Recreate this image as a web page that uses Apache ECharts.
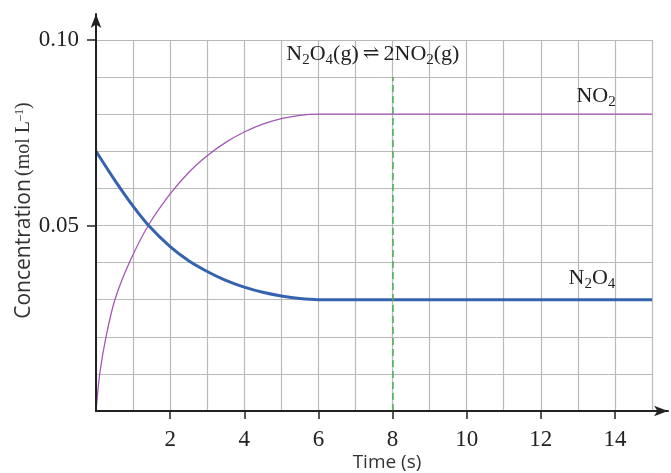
<!DOCTYPE html>
<html>
<head>
<meta charset="utf-8">
<script src="https://cdn.jsdelivr.net/npm/echarts@6/dist/echarts.min.js"></script>
<style>
  html, body { margin: 0; padding: 0; background: #fff; }
  #chart { width: 671px; height: 473px; }
</style>
</head>
<body>
<div id="chart"></div>
<script>
// 数据
const timeN2O4 = [0, 0.5, 1, 1.42, 2, 2.5, 3, 3.5, 4, 4.5, 5, 5.5, 6, 15];
const concN2O4 = [0.070, 0.0623, 0.0552, 0.050, 0.0443, 0.0405, 0.0376, 0.0352, 0.0334, 0.0320, 0.0310, 0.0303, 0.0300, 0.0300];
const timeNO2 = [0, 0.1, 0.27, 0.51, 0.9, 1.41, 2, 2.5, 3, 3.5, 4, 4.5, 5, 5.5, 6, 15];
const concNO2 = [0, 0.01, 0.02, 0.03, 0.04, 0.05, 0.0585, 0.0643, 0.0688, 0.0724, 0.0752, 0.0773, 0.0788, 0.0797, 0.080, 0.080];
const xTicks = [2, 4, 6, 8, 10, 12, 14];
const yTicks = [0.05, 0.10];
const equilibriumTime = 8;
const equilibriumTop = 0.09;

const serif = "'Liberation Serif', 'Times New Roman', serif";
const sans = "'Open Sans', 'Noto Sans', sans-serif";

// 上下标样式
const chemRich = {
  n: { fontFamily: serif, fontSize: 22, lineHeight: 26, color: '#222', verticalAlign: 'middle' },
  s: { fontFamily: serif, fontSize: 15, lineHeight: 15, color: '#222', verticalAlign: 'bottom' },
  a: { fontFamily: "'DejaVu Serif', serif", fontSize: 20, lineHeight: 26, color: '#222', verticalAlign: 'middle', padding: [0, 4, 0, 4] }
};

const gridLine = { show: true, lineStyle: { color: '#b9b9b9', width: 1.2 } };
const arrowLine = { show: true, symbol: ['none', 'arrow'], symbolSize: [8, 14], lineStyle: { color: '#222', width: 2 } };

const chart = echarts.init(document.getElementById('chart'));

const option = {
  animation: false,
  grid: [
    { left: 96, right: 19, top: 40, bottom: 62, containLabel: false, outerBoundsMode: 'none' },
    { left: 96, right: 3, top: 14, bottom: 62, containLabel: false, outerBoundsMode: 'none' }
  ],
  xAxis: [
    {
      type: 'value', gridIndex: 0, min: 0, max: 15, interval: 1,
      name: 'Time (s)', nameLocation: 'middle', nameGap: 42, nameMoveOverlap: false,
      nameTextStyle: { fontFamily: sans, fontSize: 19, color: '#333', padding: [0, 0, 0, 26] },
      axisLine: { show: false },
      axisTick: { show: true, customValues: xTicks, length: 8, lineStyle: { color: '#222', width: 1.5 } },
      axisLabel: { customValues: xTicks, margin: 17, fontFamily: serif, fontSize: 23, color: '#222' },
      splitLine: { show: false }
    },
    {
      type: 'value', gridIndex: 1, min: 0, max: 1,
      axisLine: arrowLine,
      axisTick: { show: false }, axisLabel: { show: false }, splitLine: { show: false },
      z: 5
    },
    {
      // 网格线
      type: 'value', gridIndex: 0, min: 0, max: 15, interval: 1,
      axisLine: { show: false }, axisTick: { show: false }, axisLabel: { show: false },
      splitLine: gridLine
    }
  ],
  yAxis: [
    {
      type: 'value', gridIndex: 0, min: 0, max: 0.1, interval: 0.01,
      name: '{c|Concentration} {m|(mol L}{u|–1}{m|)}',
      nameLocation: 'middle', nameGap: 59, nameRotate: 90, nameMoveOverlap: false,
      nameTextStyle: {
        padding: [0, 0, 0, 30],
        rich: {
          c: { fontFamily: sans, fontSize: 21, color: '#333', lineHeight: 26, verticalAlign: 'middle' },
          m: { fontFamily: serif, fontSize: 20, color: '#333', lineHeight: 26, verticalAlign: 'middle' },
          u: { fontFamily: serif, fontSize: 12, color: '#333', lineHeight: 12, verticalAlign: 'top', padding: [3, 0, 0, 0] }
        }
      },
      axisLine: { show: false },
      axisTick: { show: true, customValues: yTicks, length: 9, lineStyle: { color: '#222', width: 1.5 } },
      axisLabel: {
        customValues: yTicks, margin: 17,
        fontFamily: serif, fontSize: 23, color: '#222',
        formatter: v => v.toFixed(2)
      },
      splitLine: { show: false }
    },
    {
      type: 'value', gridIndex: 1, min: 0, max: 1,
      axisLine: arrowLine,
      axisTick: { show: false }, axisLabel: { show: false }, splitLine: { show: false },
      z: 5
    },
    {
      // 网格线
      type: 'value', gridIndex: 0, min: 0, max: 0.1, interval: 0.01,
      axisLine: { show: false }, axisTick: { show: false }, axisLabel: { show: false },
      splitLine: gridLine
    }
  ],
  series: [
    {
      name: 'NO2', type: 'line', xAxisIndex: 0, yAxisIndex: 0,
      data: timeNO2.map((t, i) => [t, concNO2[i]]),
      smooth: 0.25, symbol: 'none',
      lineStyle: { color: '#a457b4', width: 1.3 },
      markLine: {
        silent: true, symbol: 'none', label: { show: false },
        lineStyle: { color: '#4cae55', type: [7, 4], width: 1.5 },
        data: [[{ coord: [equilibriumTime, 0] }, { coord: [equilibriumTime, equilibriumTop] }]]
      },
      markPoint: {
        silent: true, symbol: 'circle', symbolSize: 0,
        data: [
          {
            coord: [7.47, 0.0962],
            label: { show: true, position: 'inside', formatter: '{n|N}{s|2}{n|O}{s|4}{n|(g)}{a|⇌}{n|2NO}{s|2}{n|(g)}', rich: chemRich }
          },
          {
            coord: [13.49, 0.0848],
            label: { show: true, position: 'inside', formatter: '{n|NO}{s|2}', rich: chemRich }
          },
          {
            coord: [13.38, 0.0358],
            label: { show: true, position: 'inside', formatter: '{n|N}{s|2}{n|O}{s|4}', rich: chemRich }
          }
        ]
      },
      z: 3
    },
    {
      name: 'N2O4', type: 'line', xAxisIndex: 0, yAxisIndex: 0,
      data: timeN2O4.map((t, i) => [t, concN2O4[i]]),
      smooth: 0.25, symbol: 'none',
      lineStyle: { color: '#3563b0', width: 3 },
      z: 4
    }
  ]
};

chart.setOption(option);
</script>
</body>
</html>
